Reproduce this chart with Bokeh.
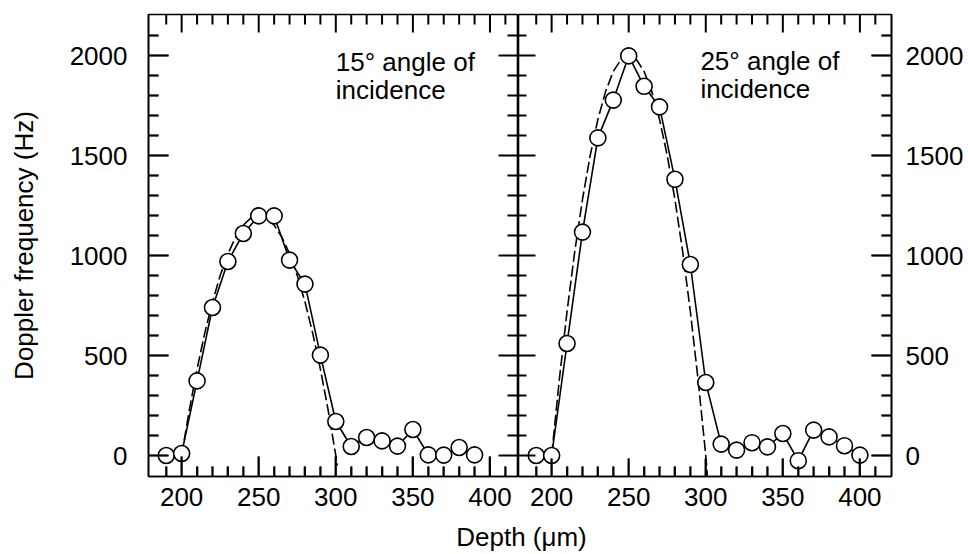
from bokeh.plotting import figure
from bokeh.models import Range1d, FixedTicker, LinearAxis, Label
from bokeh.layouts import row, column
from bokeh.embed import file_html
from bokeh.resources import INLINE

# ---------------- data ----------------
depth_15 = [190, 200, 210, 220, 230, 240, 250, 260, 270, 280, 290,
            300, 310, 320, 330, 340, 350, 360, 370, 380, 390]
freq_15 = [0, 10, 373, 740, 970, 1110, 1198, 1198, 977, 857, 502,
           170, 45, 90, 73, 47, 130, 3, 2, 40, 3]

depth_25 = [190, 200, 210, 220, 230, 240, 250, 260, 270, 280, 290,
            300, 310, 320, 330, 340, 350, 360, 370, 380, 390, 400]
freq_25 = [0, 0, 560, 1117, 1588, 1777, 1998, 1846, 1743, 1381, 955,
           365, 57, 27, 64, 43, 110, -26, 127, 93, 49, 2]

fit_depth = [200, 205, 210, 215, 220, 225, 230, 235, 240, 245, 250,
             255, 260, 265, 270, 275, 280, 285, 290, 295, 300, 301]
fit_15 = [0, 228, 432, 612, 768, 900, 1008, 1092, 1152, 1188, 1200,
          1188, 1152, 1092, 1008, 900, 768, 612, 432, 228, 0, -50]
fit_25 = [0, 380, 720, 1020, 1280, 1500, 1680, 1820, 1920, 1980, 2000,
          1980, 1920, 1820, 1680, 1500, 1280, 1020, 720, 380, 0, -100]

x_major = [200, 250, 300, 350, 400]
x_minor = [190, 210, 220, 230, 240, 260, 270, 280, 290, 310, 320,
           330, 340, 360, 370, 380, 390, 410]
y_major = [0, 500, 1000, 1500, 2000]
y_minor = [100, 200, 300, 400, 600, 700, 800, 900, 1100, 1200, 1300,
           1400, 1600, 1700, 1800, 1900, 2100]

panel_text = [("15° angle of", "incidence"), ("25° angle of", "incidence")]
x_label = "Depth (μm)"
y_label = "Doppler frequency (Hz)"

# ---------------- styling ----------------
FONT = "Liberation Sans"
FS = "26px"
LW = 1.6
TW = 2.0          # tick thickness, px
Y_RANGE = (-105, 2205)
HEIGHT = 520
B_TOP, B_BOTTOM = 14, 44


def label_axis(ax, ticks, minor, standoff, tin, tmin):
    ax.ticker = FixedTicker(ticks=ticks, minor_ticks=minor)
    ax.major_tick_in = tin
    ax.major_tick_out = 0
    ax.minor_tick_in = tmin
    ax.minor_tick_out = 0
    ax.major_tick_line_color = "black"
    ax.minor_tick_line_color = "black"
    ax.major_tick_line_width = LW
    ax.minor_tick_line_width = LW
    ax.axis_line_color = "black"
    ax.axis_line_width = LW
    ax.major_label_text_font = FONT
    ax.major_label_text_font_size = FS
    ax.major_label_text_color = "black"
    ax.major_label_standoff = standoff


def make_panel(width, xr, left_border, right_border):
    p = figure(width=width, height=HEIGHT, x_range=Range1d(*xr), y_range=Range1d(*Y_RANGE),
               x_axis_location=None, y_axis_location=None, toolbar_location=None,
               output_backend="svg", min_border_left=left_border, min_border_right=right_border,
               min_border_top=B_TOP, min_border_bottom=B_BOTTOM)
    p.grid.visible = False
    p.outline_line_color = "black"
    p.outline_line_width = LW
    p.background_fill_color = None
    p.border_fill_color = None
    return p


def inward_ticks(p, frame_w, lens):
    """Tick marks pointing into the frame, drawn as thin filled bars, one per tick
    value; lengths/thickness in pixels, converted with the panel's own scale."""
    x0, x1 = p.x_range.start, p.x_range.end
    y0, y1 = p.y_range.start, p.y_range.end
    kx = (x1 - x0) / frame_w                      # data units per pixel (x)
    ky = (y1 - y0) / (HEIGHT - B_TOP - B_BOTTOM)  # data units per pixel (y)
    hx, hy = TW / 2 * kx, TW / 2 * ky
    (b_maj, b_min), (t_maj, t_min), (l_maj, l_min), (r_maj, r_min) = lens
    L, R, B, T = [], [], [], []

    def bar(l, r, b, t):
        L.append(min(l, r)); R.append(max(l, r)); B.append(min(b, t)); T.append(max(b, t))

    for xv in x_major:
        bar(xv - hx, xv + hx, y0, y0 + b_maj * ky)
        bar(xv - hx, xv + hx, y1, y1 - t_maj * ky)
    for xv in x_minor:
        bar(xv - hx, xv + hx, y0, y0 + b_min * ky)
        bar(xv - hx, xv + hx, y1, y1 - t_min * ky)
    for yv in y_major:
        bar(x0, x0 + l_maj * kx, yv - hy, yv + hy)
        bar(x1, x1 - r_maj * kx, yv - hy, yv + hy)
    for yv in y_minor:
        bar(x0, x0 + l_min * kx, yv - hy, yv + hy)
        bar(x1, x1 - r_min * kx, yv - hy, yv + hy)
    p.quad(left=L, right=R, bottom=B, top=T, fill_color="black", line_color=None)


def draw(p, depth, freq, fit):
    p.line(fit_depth, fit, line_color="black", line_width=LW, line_dash="11 4")
    p.line(depth, freq, line_color="black", line_width=LW)
    p.scatter(depth, freq, size=16, marker="circle", fill_color="white",
              line_color="black", line_width=LW)


def add_text(p, x, y1, y2, lines):
    for y, t in zip((y1, y2), lines):
        p.add_layout(Label(x=x, y=y, text=t, text_font=FONT, text_font_size=FS,
                           text_color="black", text_baseline="alphabetic"))


# left panel (15 degrees)
W1, L1 = 518, 148
p1 = make_panel(W1, (178.5, 418.5), L1, 0)
ax = LinearAxis()
label_axis(ax, y_major, y_minor, 21, 20, 10)
ax.axis_label = y_label
ax.axis_label_text_font = FONT
ax.axis_label_text_font_size = FS
ax.axis_label_text_font_style = "normal"
ax.axis_label_text_color = "black"
ax.axis_label_standoff = 28
p1.add_layout(ax, "left")
ax = LinearAxis()
label_axis(ax, x_major, x_minor, 11, 20, 10)
p1.add_layout(ax, "below")
draw(p1, depth_15, freq_15, fit_15)
inward_ticks(p1, W1 - L1, ((20, 10), (18, 10), (20, 10), (20, 11)))
add_text(p1, 300, 1968, 1830, panel_text[0])

# right panel (25 degrees)
W2, R2 = 450, 77
p2 = make_panel(W2, (178.5, 420.5), 0, R2)
ax = LinearAxis()
label_axis(ax, y_major, y_minor, 14, 20, 10)
p2.add_layout(ax, "right")
ax = LinearAxis()
label_axis(ax, x_major, x_minor, 11, 18, 10)
p2.add_layout(ax, "below")
draw(p2, depth_25, freq_25, fit_25)
inward_ticks(p2, W2 - R2, ((18, 10), (18, 10), (17, 8), (20, 10)))
add_text(p2, 296.5, 1973, 1835, panel_text[1])

# shared x-axis title strip
p3 = figure(width=968, height=554 - HEIGHT, x_range=Range1d(0, 1), y_range=Range1d(0, 1),
            x_axis_location=None, y_axis_location=None, toolbar_location=None,
            output_backend="svg", min_border_left=148, min_border_right=74,
            min_border_top=0, min_border_bottom=0)
p3.grid.visible = False
p3.outline_line_color = None
p3.background_fill_color = None
p3.border_fill_color = None
p3.add_layout(Label(x=0.5, y=0.06, text=x_label, text_font=FONT, text_font_size=FS,
                    text_color="black", text_align="center", text_baseline="bottom"))

layout = column(row(p1, p2), p3)
open("out.html", "w").write(file_html(layout, INLINE))
